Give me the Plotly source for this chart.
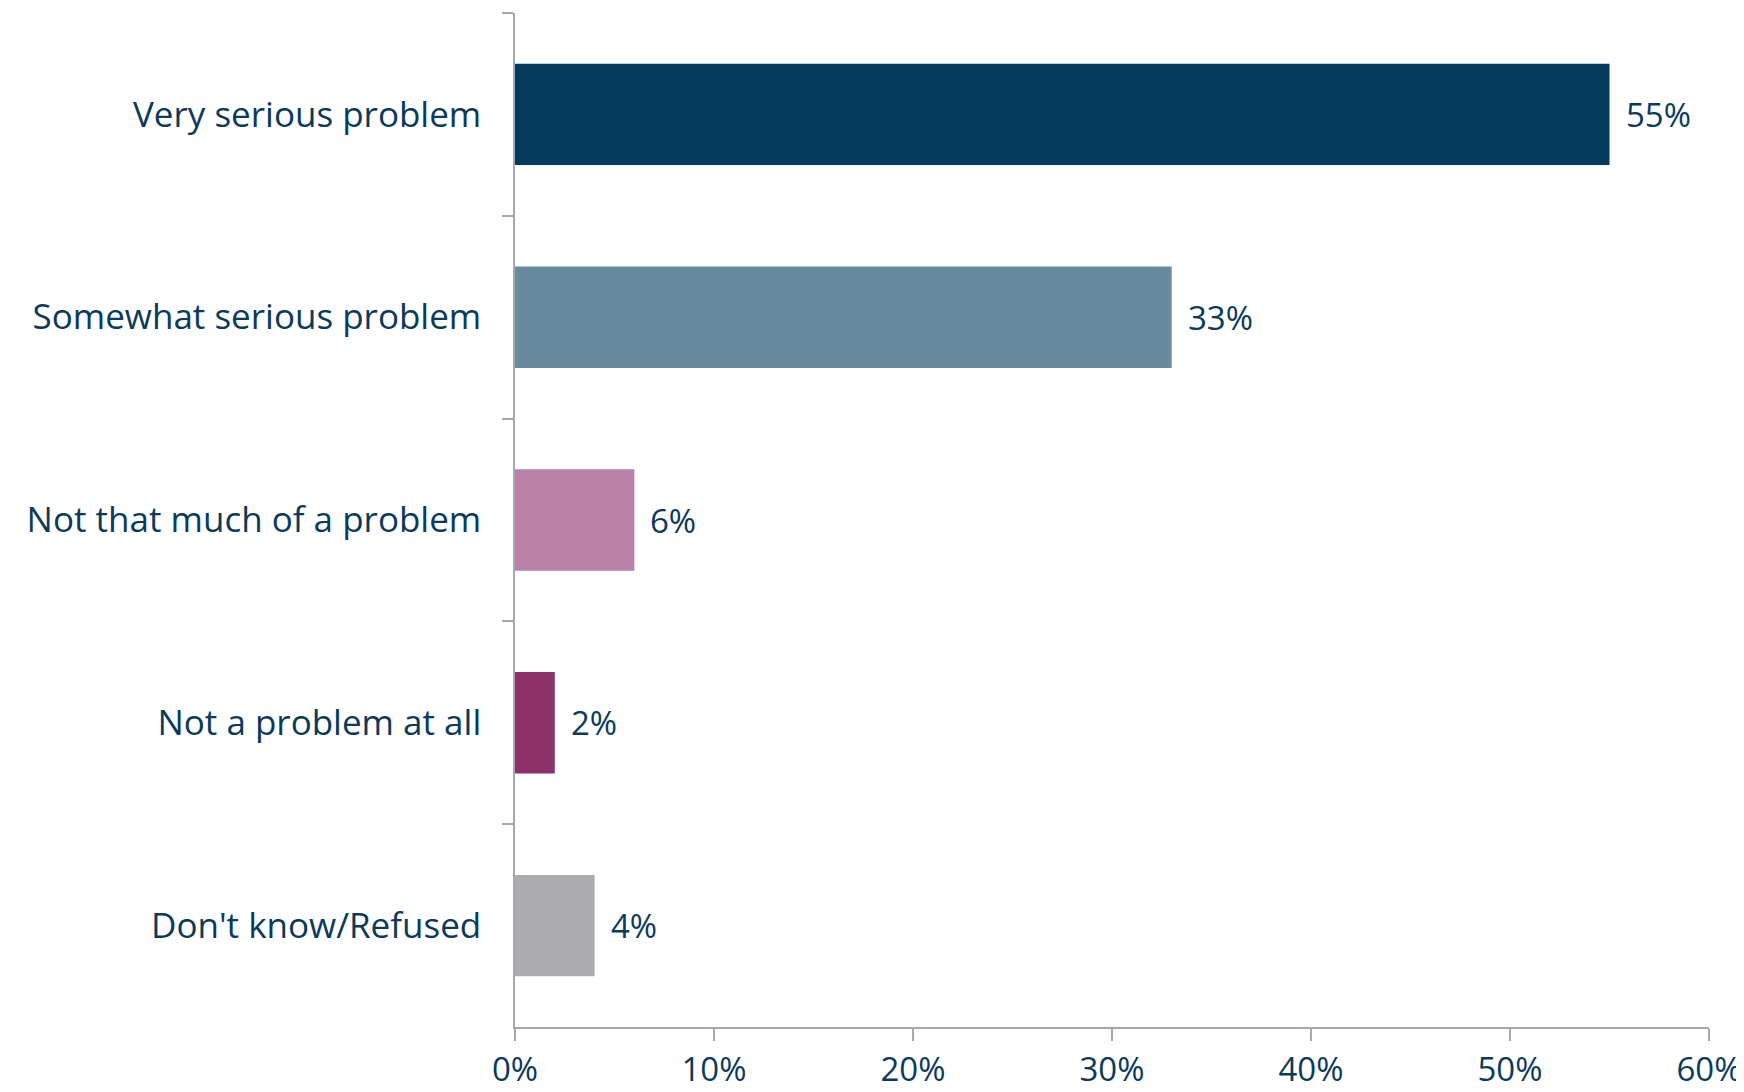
import plotly.graph_objects as go

categories = ["Very serious problem", "Somewhat serious problem", "Not that much of a problem",
              "Not a problem at all", "Don't know/Refused"]
values = [55, 33, 6, 2, 4]
colors = ["#043a5b", "#678a9e", "#bb82a7", "#8e316b", "#acacae"]
x_ticks = [0, 10, 20, 30, 40, 50, 60]
x_tick_labels = ["0%", "10%", "20%", "30%", "40%", "50%", "60%"]

TEXT = "#0b3a5a"
AXIS = "#a3a7b0"
FONT = "'Open Sans', Lato, sans-serif"
FS = 35
FS_NUM = 33

fig = go.Figure()
fig.add_trace(go.Bar(
    x=values, y=categories, orientation="h",
    marker=dict(color=colors, line=dict(width=0)),
    hoverinfo="skip",
))
for c, v in zip(categories, values):
    fig.add_annotation(x=v, y=c, text=f"{v}%", showarrow=False, xanchor="left",
                       xshift=14, font=dict(family=FONT, size=FS_NUM, color=TEXT))

fig.update_layout(
    template="none",
    width=1736, height=1084,
    margin=dict(l=507, r=35, t=5, b=65, autoexpand=False),
    paper_bgcolor="white", plot_bgcolor="white",
    bargap=0.5, showlegend=False,
    font=dict(family=FONT, size=FS, color=TEXT),
)
fig.update_xaxes(
    range=[0, 60], tickvals=x_ticks, ticktext=x_tick_labels, automargin=False,
    showgrid=False, zeroline=False, showline=True, linecolor=AXIS, linewidth=1.5,
    ticks="outside", ticklen=12, tickcolor=AXIS, tickwidth=1.5,
    ticklabelstandoff=1,
    tickfont=dict(family=FONT, size=FS_NUM, color=TEXT),
)
fig.update_yaxes(
    categoryorder="array", categoryarray=categories, autorange="reversed", automargin=False,
    showgrid=False, zeroline=False, showline=True, linecolor=AXIS, linewidth=1.5,
    ticks="outside", ticklen=11, tickcolor=AXIS, tickwidth=1.5, tickson="boundaries",
    ticklabelstandoff=25,
    tickfont=dict(family=FONT, size=FS, color=TEXT),
)

fig.write_html("out.html")
